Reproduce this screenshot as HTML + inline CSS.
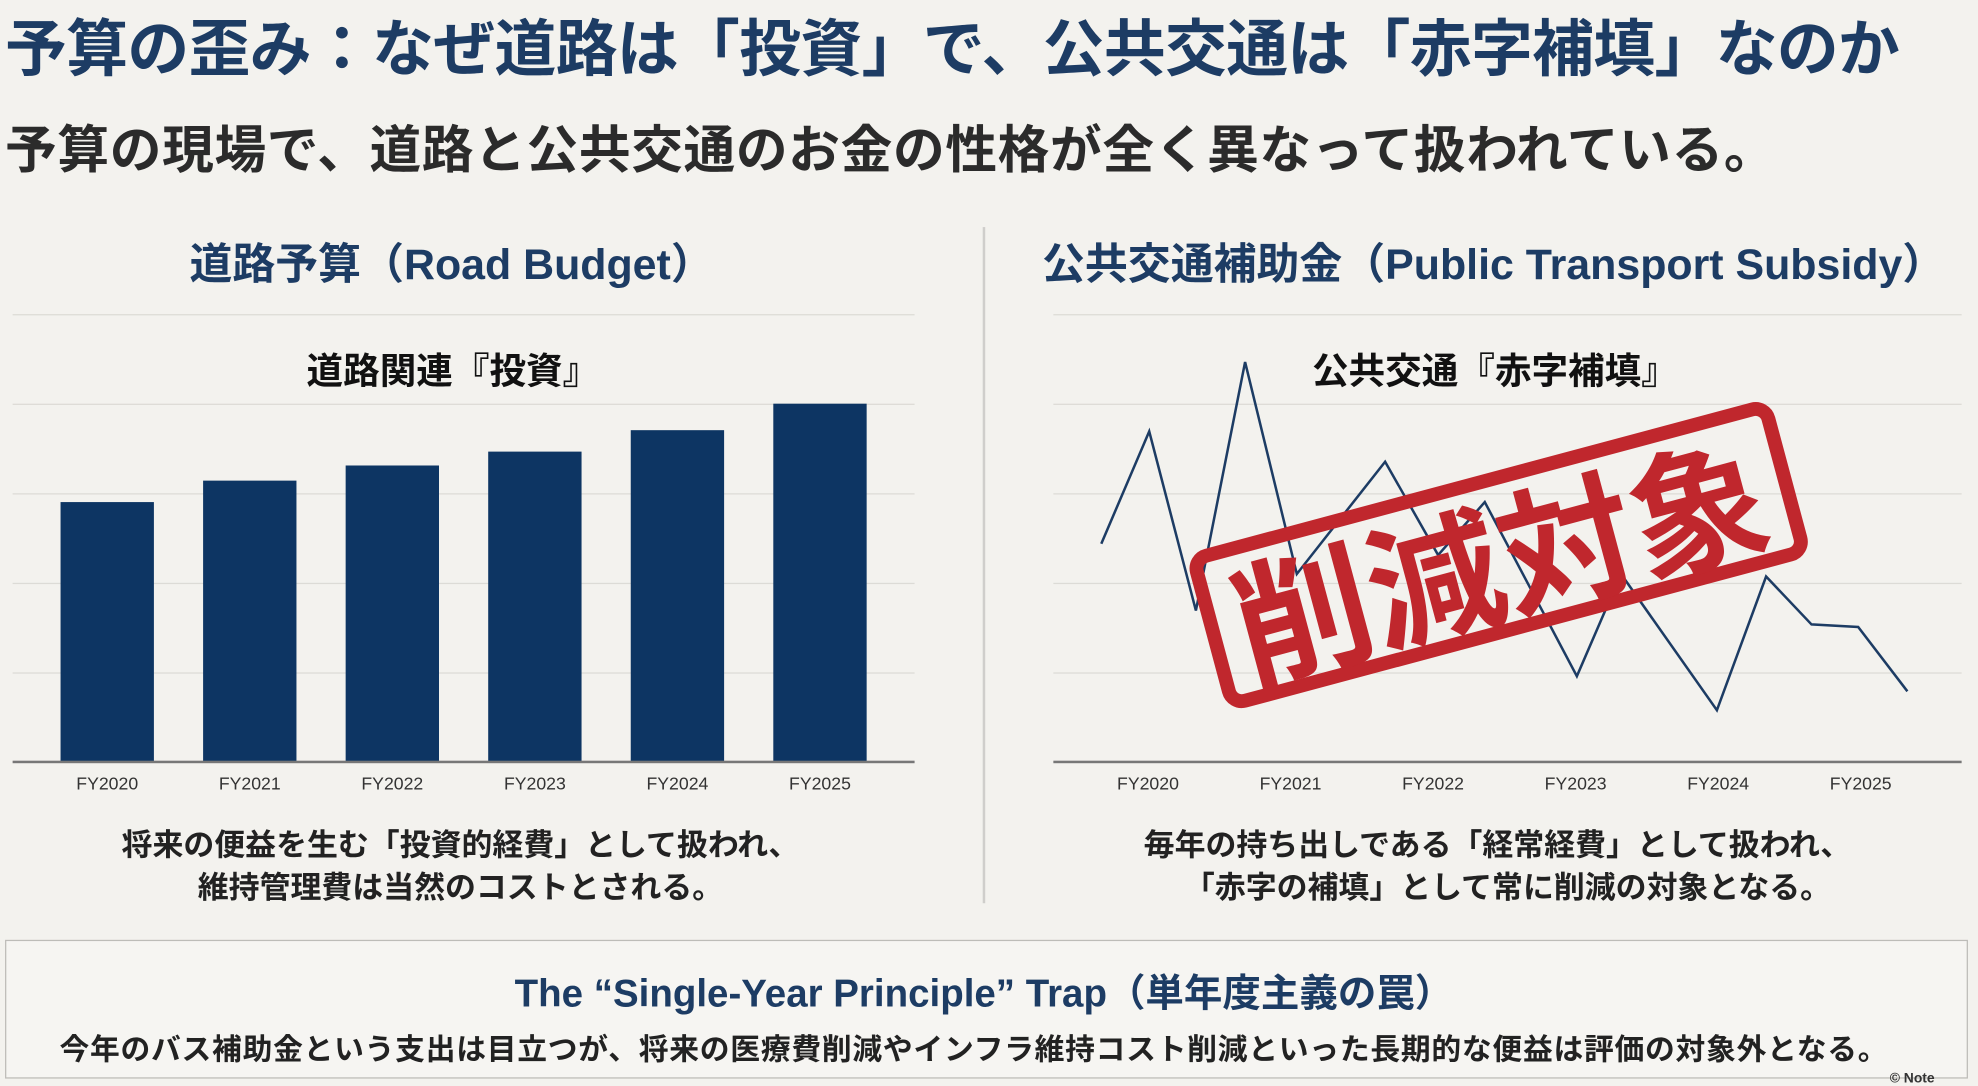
<!DOCTYPE html>
<html><head><meta charset="utf-8"><style>
html,body{margin:0;padding:0;background:#f3f2ee;}
body{width:1978px;height:1082px;overflow:hidden;position:relative;}
#w{position:absolute;left:0;top:0;width:1568px;height:858px;transform:scale(1.2615);transform-origin:0 0;font-family:"Liberation Sans","Noto Sans CJK JP",sans-serif;}
.t{position:absolute;white-space:nowrap;font-weight:bold;}
.c{transform:translateX(-50%);}
.g{position:absolute;height:1px;background:#dcdbd6;}
.bar{position:absolute;width:74px;background:#0d3563;bottom:254px;}
.fy{position:absolute;top:613px;font-size:14px;color:#333;transform:translateX(-50%);white-space:nowrap;}
</style></head><body><div id="w">
<div class="t" style="left:4px;top:0px;font-size:49px;color:#1d3c64;letter-spacing:-0.5px;">予算の歪み：なぜ道路は「投資」で、公共交通は「赤字補填」なのか</div>
<div class="t" style="left:4px;top:85px;font-size:41px;color:#2b2b2b;letter-spacing:0.5px;">予算の現場で、道路と公共交通のお金の性格が全く異なって扱われている。</div>
<div style="position:absolute;left:779px;top:180px;width:2px;height:536px;background:#cfcecb;"></div>

<div class="t c" style="left:358px;top:182px;font-size:34px;color:#1d3c64;">道路予算（Road Budget）</div>
<div class="g" style="left:10px;width:715px;top:249px"></div>
<div class="g" style="left:10px;width:715px;top:320px"></div>
<div class="g" style="left:10px;width:715px;top:391px"></div>
<div class="g" style="left:10px;width:715px;top:462px"></div>
<div class="g" style="left:10px;width:715px;top:533px"></div>
<div class="t c" style="left:359px;top:271px;font-size:29px;color:#111;">道路関連『投資』</div>
<div class="bar" style="left:48px;height:206px"></div>
<div class="bar" style="left:161px;height:223px"></div>
<div class="bar" style="left:274px;height:235px"></div>
<div class="bar" style="left:387px;height:246px"></div>
<div class="bar" style="left:500px;height:263px"></div>
<div class="bar" style="left:613px;height:284px"></div>
<div style="position:absolute;left:10px;width:715px;top:603px;height:2px;background:#777;"></div>
<div class="fy" style="left:85px">FY2020</div><div class="fy" style="left:198px">FY2021</div><div class="fy" style="left:311px">FY2022</div><div class="fy" style="left:424px">FY2023</div><div class="fy" style="left:537px">FY2024</div><div class="fy" style="left:650px">FY2025</div>
<div class="t c" style="left:365px;top:651px;font-size:24.5px;color:#222;">将来の便益を生む「投資的経費」として扱われ、</div>
<div class="t c" style="left:365px;top:685px;font-size:24.5px;color:#222;">維持管理費は当然のコストとされる。</div>

<div class="t c" style="left:1184px;top:182px;font-size:34px;color:#1d3c64;">公共交通補助金（Public Transport Subsidy）</div>
<div class="g" style="left:835px;width:720px;top:249px"></div>
<div class="g" style="left:835px;width:720px;top:320px"></div>
<div class="g" style="left:835px;width:720px;top:391px"></div>
<div class="g" style="left:835px;width:720px;top:462px"></div>
<div class="g" style="left:835px;width:720px;top:533px"></div>
<div class="t c" style="left:1185px;top:271px;font-size:29px;color:#111;">公共交通『赤字補填』</div>
<svg style="position:absolute;left:0;top:0" width="1568" height="858"><polyline fill="none" stroke="#1d3c64" stroke-width="2" points="873,431 911,342 948,484 987,287 1028,455 1098,366 1140,440 1177,398 1250,536 1285,455 1361,563 1400,457 1436,495 1473,497 1512,548"/></svg>
<div style="position:absolute;left:835px;width:720px;top:603px;height:2px;background:#777;"></div>
<div class="fy" style="left:910px">FY2020</div><div class="fy" style="left:1023px">FY2021</div><div class="fy" style="left:1136px">FY2022</div><div class="fy" style="left:1249px">FY2023</div><div class="fy" style="left:1362px">FY2024</div><div class="fy" style="left:1475px">FY2025</div>
<div style="position:absolute;left:948px;top:375px;width:480px;height:130px;border:11px solid #c0272d;border-radius:16px;transform:rotate(-15deg);box-sizing:border-box;display:flex;align-items:center;justify-content:center;">
<span style="font-size:108px;font-weight:bold;color:#c0272d;font-family:'Noto Sans CJK JP',sans-serif;line-height:1;white-space:nowrap;">削減対象</span></div>
<div class="t c" style="left:1187px;top:651px;font-size:24.5px;color:#222;">毎年の持ち出しである「経常経費」として扱われ、</div>
<div class="t c" style="left:1195px;top:685px;font-size:24.5px;color:#222;">「赤字の補填」として常に削減の対象となる。</div>

<div style="position:absolute;left:4px;top:745px;width:1556px;height:110px;border:1.5px solid #bdbcb8;background:#f6f5f2;box-sizing:border-box;"></div>
<div class="t c" style="left:780px;top:763px;font-size:30.5px;color:#1d3c64;">The “Single-Year Principle” Trap（単年度主義の罠）</div>
<div class="t c" style="left:772px;top:813px;font-size:23.6px;color:#222;letter-spacing:0.6px;">今年のバス補助金という支出は目立つが、将来の医療費削減やインフラ維持コスト削減といった長期的な便益は評価の対象外となる。</div>
<div class="t" style="left:1498px;top:849px;font-size:11px;color:#333;">© Note</div>
</div></body></html>
